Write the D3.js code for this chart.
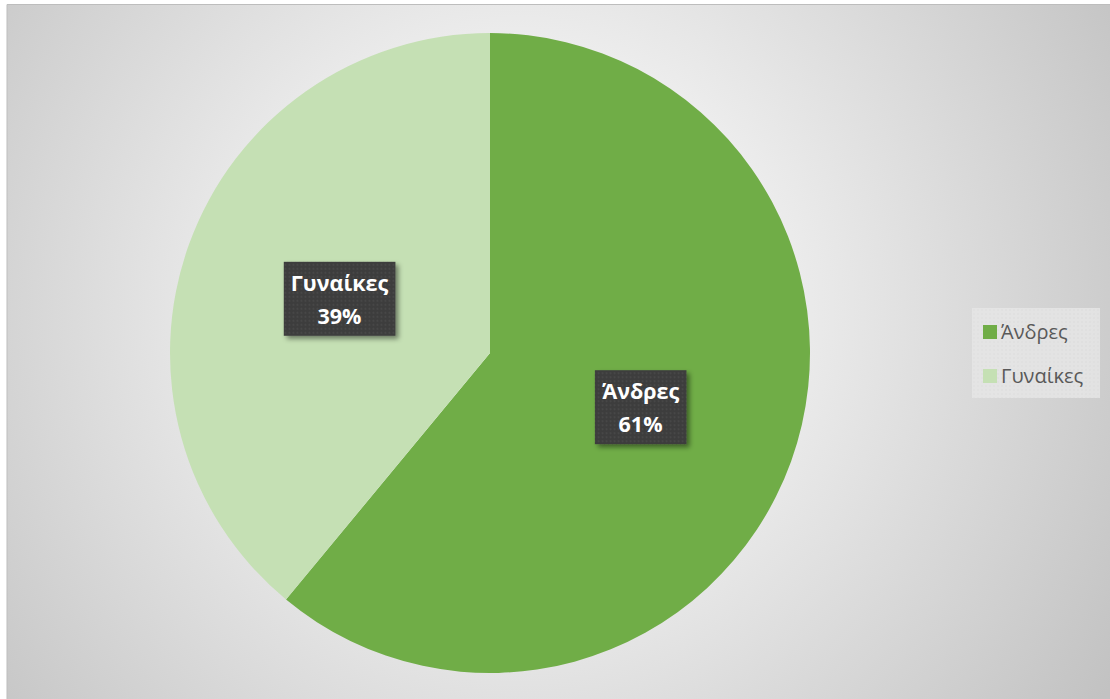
<!DOCTYPE html>
<html>
<head>
<meta charset="utf-8">
<script src="https://cdn.jsdelivr.net/npm/d3@7"></script>
<style>
  html, body { margin: 0; padding: 0; background: #ffffff; }
  svg { display: block; }
</style>
</head>
<body>
<svg id="chart" width="1110" height="699"></svg>
<script>
// Gender split
const categories = ["Άνδρες", "Γυναίκες"];
const values = [61, 39];
const colors = ["#70ad47", "#c5e0b4"];

const W = 1110, H = 699;
const svg = d3.select("#chart");
const defs = svg.append("defs");

// Soft radial background
const bg = defs.append("radialGradient").attr("id", "bgGrad")
  .attr("gradientUnits", "userSpaceOnUse")
  .attr("cx", 520).attr("cy", 310).attr("r", 700);
bg.append("stop").attr("offset", "0%").attr("stop-color", "#ffffff");
bg.append("stop").attr("offset", "30%").attr("stop-color", "#f2f2f2");
bg.append("stop").attr("offset", "100%").attr("stop-color", "#c2c2c2");

// Dotted fill for label boxes
const dots = defs.append("pattern").attr("id", "dotPat")
  .attr("patternUnits", "userSpaceOnUse").attr("width", 4).attr("height", 4);
dots.append("rect").attr("width", 4).attr("height", 4).attr("fill", "#3d3d3d");
dots.append("circle").attr("cx", 2).attr("cy", 2).attr("r", 0.9).attr("fill", "#4a4a4a");

// Light dotted fill for legend
const ldots = defs.append("pattern").attr("id", "legPat")
  .attr("patternUnits", "userSpaceOnUse").attr("width", 4).attr("height", 4);
ldots.append("rect").attr("width", 4).attr("height", 4).attr("fill", "#e6e6e6");
ldots.append("circle").attr("cx", 2).attr("cy", 2).attr("r", 0.8).attr("fill", "#dedede");

const shadow = defs.append("filter").attr("id", "shadow")
  .attr("x", "-20%").attr("y", "-20%").attr("width", "150%").attr("height", "150%");
shadow.append("feDropShadow").attr("dx", 3).attr("dy", 3).attr("stdDeviation", 2.5)
  .attr("flood-color", "#000").attr("flood-opacity", 0.45);

svg.append("rect").attr("x", 7).attr("y", 4).attr("width", W - 7).attr("height", H - 4)
  .attr("fill", "url(#bgGrad)");
svg.append("path").attr("d", `M7,${H} V4.5 H${W}`)
  .attr("fill", "none").attr("stroke", "#bdbdbd").attr("stroke-width", 1);

// Pie
const cx = 490, cy = 353, R = 320;
const pie = d3.pie().sort(null).value(d => d.value);
const data = categories.map((c, i) => ({ name: c, value: values[i], color: colors[i] }));
const arcs = pie(data);
const arc = d3.arc().innerRadius(0).outerRadius(R);
const labelArc = d3.arc().innerRadius(R * 0.5).outerRadius(R * 0.5);

const g = svg.append("g").attr("transform", `translate(${cx},${cy})`);
g.selectAll("path.slice").data(arcs).enter().append("path")
  .attr("class", "slice")
  .attr("d", arc)
  .attr("fill", d => d.data.color);

// Data labels
const total = d3.sum(values);
const labels = g.selectAll("g.lbl").data(arcs).enter().append("g")
  .attr("class", "lbl")
  .attr("transform", d => `translate(${labelArc.centroid(d)})`);

labels.each(function(d) {
  const lg = d3.select(this);
  const pct = Math.round(d.data.value / total * 100) + "%";
  const t = lg.append("text")
    .attr("text-anchor", "middle")
    .attr("font-family", "'Open Sans', 'Noto Sans', sans-serif")
    .attr("font-weight", "bold")
    .attr("font-size", 21.5)
    .attr("fill", "#ffffff");
  t.append("tspan").attr("x", 0).attr("y", -8).text(d.data.name);
  t.append("tspan").attr("x", 0).attr("y", 25).text(pct);
  const bb = t.node().getBBox();
  const padX = 7;
  lg.insert("rect", "text")
    .attr("x", bb.x - padX).attr("y", -37)
    .attr("width", bb.width + 2 * padX).attr("height", 74)
    .attr("fill", "url(#dotPat)")
    .attr("filter", "url(#shadow)");
});

// Legend
const legX = 972, legY = 308;
svg.append("rect").attr("x", legX).attr("y", legY).attr("width", 128).attr("height", 90)
  .attr("fill", "url(#legPat)").attr("opacity", 0.85);
const leg = svg.selectAll("g.leg").data(data).enter().append("g")
  .attr("class", "leg")
  .attr("transform", (d, i) => `translate(${legX + 11},${legY + 17 + i * 44})`);
leg.append("rect").attr("width", 14).attr("height", 14).attr("fill", d => d.color);
leg.append("text")
  .attr("x", 18).attr("y", 14)
  .attr("font-family", "'Open Sans', 'Noto Sans', sans-serif")
  .attr("font-size", 20)
  .attr("fill", "#595959")
  .text(d => d.name);
</script>
</body>
</html>
